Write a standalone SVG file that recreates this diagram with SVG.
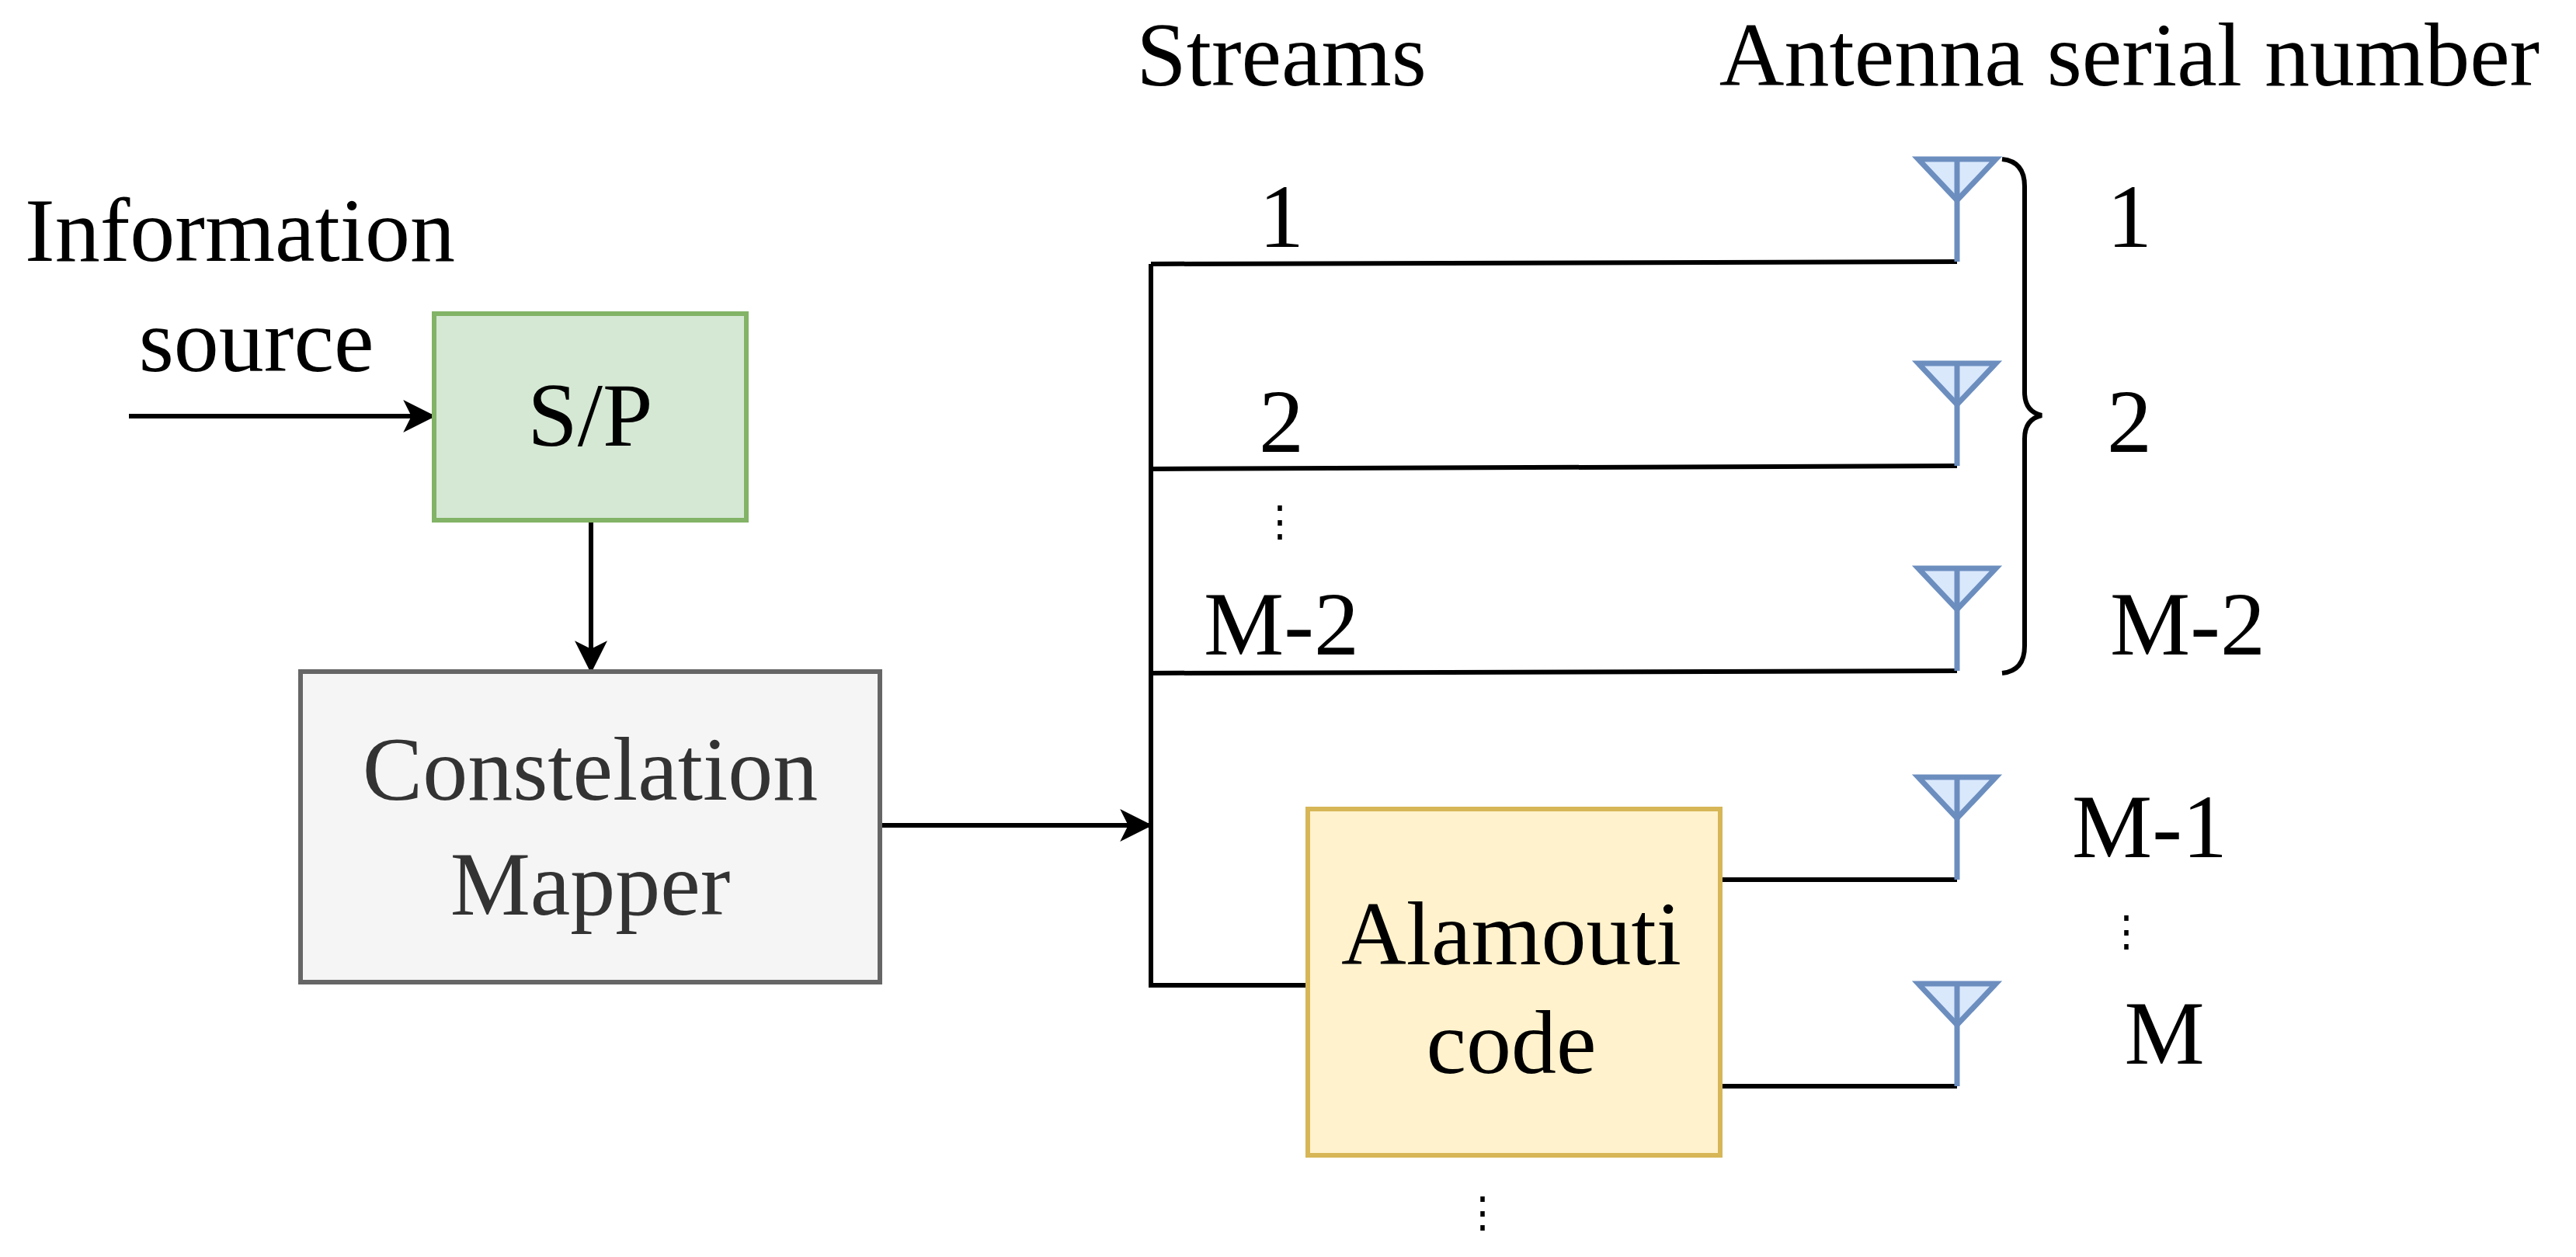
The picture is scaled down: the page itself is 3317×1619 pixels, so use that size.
<svg xmlns="http://www.w3.org/2000/svg" width="3317" height="1619" viewBox="0 0 3317 1619">
<style>
text{font-family:"Liberation Serif","Times New Roman",serif;font-size:116px;fill:#000;text-anchor:middle}
.w{stroke:#000;stroke-width:6;fill:none}
.ant{stroke:#6c8ebf;stroke-width:7;fill:#dae8fc}
.dots{font-size:54px}
</style>
<defs>
<marker id="ah" viewBox="0 0 20 20" refX="18" refY="10" markerWidth="42" markerHeight="42" markerUnits="userSpaceOnUse" orient="auto">
<path d="M0,0 L20,10 L0,20 L5,10 Z" fill="#000"/>
</marker>
<g id="antenna">
<path class="ant" d="M-50,0 L50,0 L0,53 Z"/>
<path class="ant" d="M0,0 L0,132" fill="none"/>
</g>
</defs>
<rect width="3317" height="1619" fill="#fff"/>
<g id="connectors">
<path class="w" d="M166,536 L557,536" marker-end="url(#ah)"/>
<path class="w" d="M761,670 L761,863" marker-end="url(#ah)"/>
<path class="w" d="M1133,1063 L1480,1063" marker-end="url(#ah)"/>
<path class="w" d="M1482,340 L1482,1269 L1684,1269"/>
<path class="w" d="M1482,340 L2520,337"/>
<path class="w" d="M1482,604 L2520,600"/>
<path class="w" d="M1482,867 L2520,864"/>
<path class="w" d="M2215,1133 L2520,1133"/>
<path class="w" d="M2215,1399 L2520,1399"/>
<path class="w" d="M2578,205 Q2607,208 2607,240 L2607,505 Q2607,530 2629,535 Q2607,540 2607,565 L2607,832 Q2607,864 2578,867"/>
</g>
<g id="antennas">
<use href="#antenna" x="2520" y="205"/>
<use href="#antenna" x="2520" y="468"/>
<use href="#antenna" x="2520" y="732"/>
<use href="#antenna" x="2520" y="1001"/>
<use href="#antenna" x="2520" y="1267"/>
</g>
<g id="sp">
<rect x="559" y="404" width="402" height="266" fill="#d5e8d4" stroke="#82b366" stroke-width="6"/>
<text x="760" y="574">S/P</text>
</g>
<g id="mapper">
<rect x="387" y="865" width="746" height="400" fill="#f5f5f5" stroke="#666666" stroke-width="6"/>
<text x="760" y="1030" style="fill:#333">Constelation</text>
<text x="760" y="1178" style="fill:#333">Mapper</text>
</g>
<g id="alamouti">
<rect x="1684" y="1042" width="531" height="446" fill="#fff2cc" stroke="#d6b656" stroke-width="6"/>
<text x="1946" y="1242">Alamouti</text>
<text x="1946" y="1382">code</text>
</g>
<g id="labels">
<text x="32" y="336" style="text-anchor:start">Information</text>
<text x="330" y="478">source</text>
<text x="1650" y="110">Streams</text>
<text x="2742" y="110">Antenna serial number</text>
<text x="1650" y="318">1</text>
<text x="1650" y="582">2</text>
<text class="dots" x="1648" y="690">⋮</text>
<text x="1650" y="843">M-2</text>
<text x="2742" y="318">1</text>
<text x="2742" y="582">2</text>
<text x="2817" y="843">M-2</text>
<text x="2768" y="1104">M-1</text>
<text class="dots" x="2738" y="1218">⋮</text>
<text x="2787" y="1370">M</text>
<text class="dots" x="1909" y="1580">⋮</text>
</g>
</svg>
